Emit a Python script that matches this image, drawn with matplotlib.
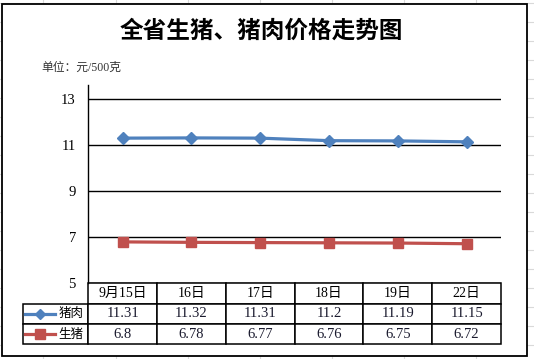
import matplotlib
matplotlib.use('Agg')
import matplotlib.pyplot as plt
from matplotlib.patches import Rectangle
from matplotlib.lines import Line2D

# data
dates = ['9月15日', '16日', '17日', '18日', '19日', '22日']
pork = [11.31, 11.32, 11.31, 11.2, 11.19, 11.15]
hogs = [6.8, 6.78, 6.77, 6.76, 6.75, 6.72]
series_names = ['猪肉', '生猪']
yticks = [5, 7, 9, 11, 13]

title = '全省生猪、猪肉价格走势图'
unit = '单位：元/500克'

blue = '#4F81BD'
red = '#C0504D'
cjk = ['Noto Sans CJK SC', 'DejaVu Sans']
serif = ['Liberation Serif', 'Noto Sans CJK SC']

W, H = 534, 359
fig = plt.figure(figsize=(W / 100, H / 100), dpi=100)


def fx(px):
    return px / W


def fy(py):
    return 1 - py / H


# faint spreadsheet grid behind the chart frame
for x in [43, 116, 188, 260, 332, 404, 476]:
    fig.add_artist(Line2D([fx(x), fx(x)], [0, 1], color='#d9d9d9', lw=0.8, zorder=0))
for y in range(3, 359, 19):
    fig.add_artist(Line2D([0, 1], [fy(y), fy(y)], color='#d9d9d9', lw=0.8, zorder=0))
fig.add_artist(Rectangle((fx(2), fy(356)), fx(527) - fx(2), fy(4) - fy(356),
                         facecolor='white', edgecolor='black', lw=1.3, zorder=1))

fig.text(fx(261), fy(31), title, ha='center', va='center', fontsize=17,
         fontweight='bold', family=cjk)
fig.text(fx(41), fy(68), unit, ha='left', va='center', fontsize=8.5,
         family=serif, color='#333333')

ax_l, ax_r, ax_t, ax_b = 88.3, 501, 85, 283.3
ax = fig.add_axes([fx(ax_l), fy(ax_b), fx(ax_r) - fx(ax_l), fy(ax_t) - fy(ax_b)])
ax.set_zorder(2)
ax.patch.set_alpha(0)

x = list(range(len(dates)))
ax.plot(x, pork, color=blue, lw=2.3, marker='D', ms=6.5, mfc=blue, mec=blue, zorder=3)
ax.plot(x, hogs, color=red, lw=2.3, marker='s', ms=7.5, mfc=red, mec=red, zorder=3)

ax.set_xlim(-0.5, len(dates) - 0.5)
ax.set_ylim(5, 13.62)
ax.set_yticks(yticks)
ax.set_yticklabels([str(v) for v in yticks], family=serif, fontsize=10.5)
ax.set_xticks([])
ax.tick_params(axis='y', length=0, pad=9)
ax.yaxis.grid(True, color='black', lw=1.0)
ax.set_axisbelow(True)
for s in ['top', 'right', 'bottom']:
    ax.spines[s].set_visible(False)
ax.spines['left'].set_linewidth(1.0)

# data table under the plot
axw = ax_r - ax_l
axh = ax_b - ax_t
tab_l, tab_b = 23.3, 344.3
rows = [[series_names[0]] + [f'{v:g}' for v in pork],
        [series_names[1]] + [f'{v:g}' for v in hogs]]
col_w = (ax_r - ax_l) / len(dates)
tbl = ax.table(cellText=rows, colLabels=[''] + dates,
               colWidths=[ax_l - tab_l] + [col_w] * len(dates),
               cellLoc='center',
               bbox=[(tab_l - ax_l) / axw, -(tab_b - ax_b) / axh,
                     (ax_r - tab_l) / axw, (tab_b - ax_b) / axh])
tbl.auto_set_font_size(False)
tbl.set_fontsize(10)
for (r, c), cell in tbl.get_celld().items():
    cell.set_linewidth(1.1)
    cell.set_edgecolor('black')
    t = cell.get_text()
    if r == 0 and c == 0:
        cell.set_visible(False)
        continue
    if c == 0:
        t.set_ha('right')
        cell._loc = 'right'
        cell.PAD = 0.07
        t.set_fontfamily(cjk)
        t.set_fontsize(9)
    elif r > 0:
        t.set_fontfamily(serif)
        t.set_fontsize(10.5)
        t.set_color('#1a1a2e')
    else:
        t.set_fontfamily(serif)

# legend keys inside the row label cells
row_h = (tab_b - ax_b) / 3
for i, (col, mk, ms) in enumerate([(blue, 'D', 5.5), (red, 's', 7)]):
    cy = ax_b + row_h * (i + 1.5)
    yy = (ax_b - cy) / axh
    ax.plot([(25 - ax_l) / axw, (55 - ax_l) / axw], [yy, yy], transform=ax.transAxes,
            color=col, lw=2.3, clip_on=False, zorder=4)
    ax.plot([(40 - ax_l) / axw], [yy], transform=ax.transAxes, marker=mk, ms=ms,
            color=col, clip_on=False, zorder=4)

plt.savefig('out.png', dpi=100)
